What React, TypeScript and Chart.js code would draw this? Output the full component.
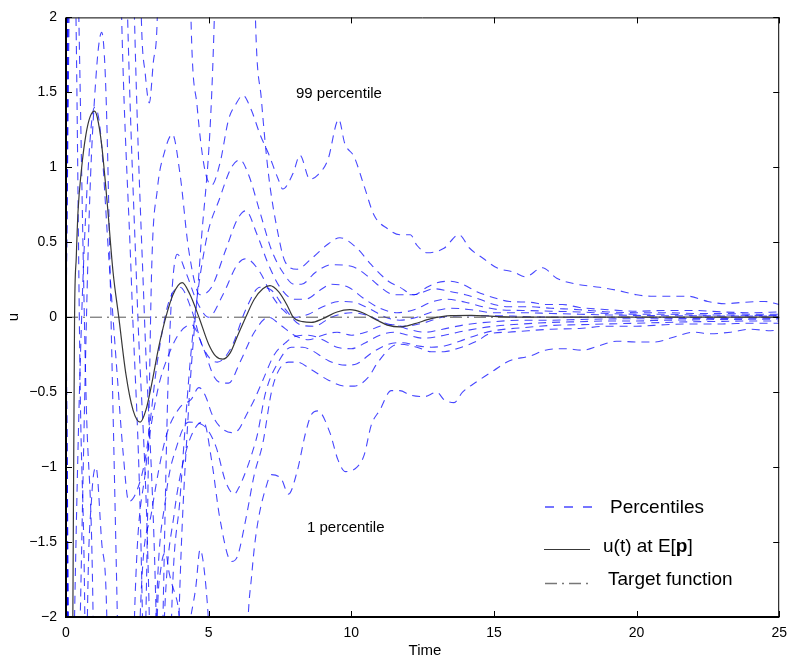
import React, { useEffect, useRef } from 'react';
import { Chart, registerables } from 'chart.js';

Chart.register(...registerables);

// ---------- data (time, u) ----------
const xTickValues = [0, 5, 10, 15, 20, 25];
const yTickValues = [-2, -1.5, -1, -0.5, 0, 0.5, 1, 1.5, 2];

const perc99: [number, number][] = [
  [0, 0], [0.03, 3], [2.55, 3], [2.64, 2.0], [2.78, 1.62], [2.92, 1.43], [3.06, 1.7], [3.2, 2.0], [3.3, 3],
  [4.3, 3], [4.38, 2.0], [4.6, 1.4], [4.85, 1.0], [5.1, 0.88], [5.4, 1.03], [5.7, 1.32], [5.95, 1.42],
  [6.2, 1.48], [6.5, 1.38], [6.8, 1.22], [7.1, 1.09], [7.44, 0.92], [7.6, 0.855], [7.96, 0.96], [8.2, 1.08],
  [8.55, 0.92], [8.83, 0.95], [9.18, 1.05], [9.56, 1.32], [9.77, 1.16], [10.1, 1.07], [10.45, 0.875],
  [10.8, 0.68], [11.27, 0.59], [11.7, 0.55], [12.07, 0.55], [12.3, 0.48], [12.66, 0.43], [13.25, 0.46],
  [13.77, 0.55], [14.15, 0.46], [14.64, 0.39], [15.1, 0.33], [15.7, 0.3], [16.1, 0.27], [16.7, 0.33],
  [17.2, 0.26], [17.9, 0.22], [18.7, 0.2], [19.3, 0.18], [20.0, 0.15], [20.5, 0.14], [21.1, 0.14],
  [21.8, 0.14], [22.5, 0.105], [23.1, 0.09], [23.8, 0.1], [24.5, 0.105], [25, 0.085],
];

const perc95: [number, number][] = [
  [0, 0], [0.05, 3], [2.3, 3], [2.4, 2.0], [2.75, 0.0], [3.16, -2.0], [3.25, -3], [3.85, -3], [3.96, -2.0],
  [4.3, -0.6], [4.7, 0.4], [5.2, 2.0], [5.3, 3], [6.55, 3], [6.64, 2.0], [6.85, 1.45], [7.1, 0.95],
  [7.44, 0.55], [7.68, 0.37], [8.1, 0.32], [8.6, 0.39], [9.2, 0.49], [9.6, 0.53], [10.2, 0.46], [10.7, 0.35],
  [11.3, 0.24], [11.7, 0.2], [12.2, 0.15], [12.65, 0.2], [13.0, 0.23], [13.45, 0.24], [13.9, 0.22],
  [14.4, 0.17], [15.0, 0.13], [15.55, 0.105], [16.25, 0.1], [16.8, 0.085], [17.4, 0.085], [18.0, 0.065],
  [19.0, 0.05], [20.0, 0.04], [21.0, 0.045], [22.0, 0.045], [23.0, 0.035], [24.0, 0.03], [25, 0.035],
];

const perc90: [number, number][] = [
  [0, 0], [0.08, 3], [2.05, 3], [2.16, 2.0], [2.5, 0.1], [2.92, -2.0], [3.0, -3], [3.6, -3], [3.7, -2.0],
  [4.0, -1.2], [4.4, -0.2], [4.9, 0.5], [5.4, 0.8], [5.8, 1.0], [6.1, 1.05], [6.4, 0.95], [6.8, 0.7],
  [7.2, 0.45], [7.6, 0.3], [8.0, 0.22], [8.25, 0.22], [8.75, 0.3], [9.3, 0.35], [10.0, 0.34], [10.6, 0.27],
  [10.9, 0.22], [11.5, 0.15], [12.2, 0.15], [12.9, 0.19], [13.5, 0.17], [14.0, 0.15], [14.5, 0.12],
  [15.0, 0.085], [15.5, 0.07], [16.2, 0.07], [17, 0.06], [18, 0.05], [19, 0.035], [20, 0.03], [21, 0.03],
  [22, 0.025], [23, 0.025], [24, 0.02], [25, 0.02],
];

const perc80: [number, number][] = [
  [0, 0], [0.1, 3], [1.85, 3], [1.95, 2.0], [2.3, 0.2], [2.68, -2.0], [2.72, -2.6], [2.8, -2.0], [3.0, 0.3],
  [3.2, 0.85], [3.45, 1.1], [3.73, 1.22], [4.0, 0.95], [4.3, 0.45], [4.7, 0.15], [5.1, 0.2], [5.6, 0.45],
  [6.0, 0.65], [6.3, 0.71], [6.7, 0.55], [7.1, 0.35], [7.5, 0.2], [8.0, 0.12], [8.4, 0.12], [8.9, 0.18],
  [9.3, 0.22], [9.9, 0.2], [10.4, 0.13], [11.0, 0.06], [11.6, 0.03], [12.2, 0.05], [12.8, 0.1], [13.3, 0.12],
  [14.0, 0.1], [14.6, 0.07], [15.2, 0.05], [16, 0.045], [17, 0.04], [18, 0.035], [19, 0.025], [20, 0.02],
  [21, 0.02], [22, 0.015], [23, 0.015], [24, 0.012], [25, 0.012],
];

const perc65: [number, number][] = [
  [0, 0], [0.06, -3], [0.4, -3], [0.5, -2.0], [0.8, 0.6], [1.05, 1.6], [1.25, 1.9], [1.4, 1.5], [1.6, -0.2],
  [1.8, -2.0], [1.9, -3], [3.3, -3], [3.4, -2.0], [3.6, -0.3], [3.9, 0.42], [4.2, 0.3], [4.6, 0.1],
  [5.0, 0.0], [5.5, 0.15], [6.0, 0.35], [6.3, 0.39], [6.8, 0.3], [7.2, 0.15], [7.6, 0.05], [8.0, 0.0],
  [8.5, 0.02], [9.0, 0.07], [9.6, 0.105], [10.1, 0.1], [10.6, 0.06], [11.2, 0.0], [11.7, -0.02], [12.3, 0.0],
  [12.9, 0.04], [13.5, 0.06], [14.2, 0.05], [15, 0.03], [16, 0.03], [17, 0.025], [18, 0.02], [19, 0.015],
  [20, 0.012], [21, 0.01], [22, 0.01], [23, 0.008], [24, 0.008], [25, 0.006],
];

const perc50: [number, number][] = [
  [0, 0], [0.1, -3], [0.22, -3], [0.3, -2.0], [0.5, -0.3], [0.75, 0.9], [1.0, 1.4], [1.2, 1.25], [1.5, 0.4],
  [1.8, -0.4], [2.0, -0.9], [2.2, -1.23], [2.5, -1.15], [2.8, -0.92], [3.2, -0.3], [3.6, 0.1], [4.0, 0.2],
  [4.4, 0.05], [4.8, -0.2], [5.3, -0.3], [5.8, -0.2], [6.3, 0.05], [6.8, 0.2], [7.2, 0.18], [7.7, 0.05],
  [8.2, -0.05], [8.7, -0.06], [9.3, 0.0], [10.0, 0.03], [10.6, 0.01], [11.2, -0.04], [11.8, -0.06],
  [12.5, -0.04], [13.2, 0.0], [14, 0.01], [15, 0.01], [16, 0.005], [17, 0.0], [18, 0.0], [19, 0.0],
  [20, 0.0], [21, 0.0], [22, -0.002], [23, 0.0], [24, 0.0], [25, 0.0],
];

const perc35: [number, number][] = [
  [0, 0], [0.15, 3], [0.35, 3], [0.45, 2.0], [0.7, -0.5], [0.95, -2.0], [1.0, -3], [2.3, -3], [2.4, -2.0],
  [2.8, -1.0], [3.2, -0.5], [3.6, -0.25], [4.0, -0.1], [4.4, -0.05], [4.8, -0.2], [5.2, -0.4], [5.5, -0.44],
  [5.7, -0.44], [6.1, -0.3], [6.6, -0.1], [7.1, 0.0], [7.5, -0.05], [8.0, -0.12], [8.5, -0.15], [9.0, -0.12],
  [9.5, -0.1], [10.0, -0.12], [10.5, -0.1], [11.0, -0.06], [11.5, -0.05], [12.0, -0.08], [12.6, -0.1],
  [13.2, -0.08], [14.0, -0.05], [15, -0.03], [16, -0.02], [17, -0.02], [18, -0.015], [19, -0.012],
  [20, -0.01], [21, -0.01], [22, -0.008], [23, -0.008], [24, -0.006], [25, -0.006],
];

const perc20: [number, number][] = [
  [0, 0], [0.12, -3], [0.7, -3], [0.75, -2.0], [0.9, -1.2], [1.05, -1.0], [1.25, -1.5], [1.43, -2.0],
  [1.5, -3], [2.5, -3], [2.6, -2.0], [3.0, -1.3], [3.5, -0.8], [4.0, -0.6], [4.38, -0.55], [4.66, -0.47],
  [4.9, -0.53], [5.1, -0.64], [5.35, -0.72], [5.8, -0.77], [6.05, -0.75], [6.3, -0.66], [6.6, -0.55],
  [6.9, -0.42], [7.3, -0.25], [7.7, -0.17], [8.0, -0.13], [8.5, -0.12], [9.0, -0.15], [9.5, -0.2],
  [10.0, -0.21], [10.5, -0.17], [11.0, -0.12], [11.5, -0.1], [12.0, -0.12], [12.5, -0.14], [13.0, -0.13],
  [13.5, -0.11], [14.0, -0.09], [15, -0.06], [16, -0.045], [17, -0.035], [18, -0.03], [19, -0.025],
  [20, -0.025], [21, -0.02], [22, -0.018], [23, -0.015], [24, -0.014], [25, -0.012],
];

const perc10: [number, number][] = [
  [0, 0], [0.2, 3], [0.25, 3], [0.35, 2.0], [0.5, -0.5], [0.66, -2.0], [0.7, -3], [3.05, -3], [3.16, -2.0],
  [3.5, -1.2], [3.9, -0.85], [4.3, -0.7], [4.8, -0.72], [5.25, -0.86], [5.6, -1.1], [5.9, -1.18],
  [6.05, -1.14], [6.3, -1.03], [6.5, -0.92], [6.7, -0.79], [7.0, -0.5], [7.44, -0.3], [7.9, -0.2],
  [8.3, -0.2], [8.6, -0.22], [9.2, -0.29], [9.8, -0.32], [10.2, -0.31], [10.7, -0.24], [11.3, -0.18],
  [11.8, -0.17], [12.3, -0.19], [12.8, -0.2], [13.3, -0.19], [13.8, -0.16], [14.4, -0.12], [15, -0.09],
  [16, -0.07], [17, -0.055], [18, -0.05], [19, -0.045], [20, -0.04], [21, -0.035], [22, -0.03],
  [23, -0.028], [24, -0.025], [25, -0.025],
];

const perc5: [number, number][] = [
  [0, 0], [0.16, -3], [3.3, -3], [3.45, -2.0], [3.8, -1.3], [4.2, -0.9], [4.6, -0.72], [4.83, -0.7],
  [5.1, -0.95], [5.4, -1.35], [5.8, -1.63], [6.0, -1.6], [6.3, -1.35], [6.6, -1.05], [6.9, -0.84],
  [7.2, -0.5], [7.44, -0.36], [7.8, -0.3], [8.1, -0.3], [8.6, -0.35], [9.2, -0.42], [9.8, -0.46],
  [10.1, -0.46], [10.6, -0.4], [10.9, -0.31], [11.4, -0.2], [11.7, -0.18], [12.3, -0.2], [12.8, -0.23],
  [13.25, -0.23], [13.7, -0.21], [14.4, -0.16], [14.85, -0.11], [15.5, -0.1], [16.2, -0.09], [17, -0.08],
  [18, -0.075], [19, -0.06], [20, -0.06], [21, -0.05], [22, -0.045], [23, -0.045], [24, -0.04], [25, -0.04],
];

const perc1: [number, number][] = [
  [0, 0], [0.08, -3], [3.1, -3], [3.2, -2.0], [3.33, -1.67], [3.5, -1.57], [3.6, -1.69], [3.73, -1.79],
  [3.9, -1.9], [4.15, -2.2], [4.4, -1.97], [4.55, -1.8], [4.7, -1.55], [4.8, -1.62], [4.95, -1.9],
  [5.05, -2.2], [5.3, -3], [6.1, -3], [6.3, -2.4], [6.4, -1.95], [6.5, -1.74], [6.6, -1.54], [6.75, -1.34],
  [7.0, -1.14], [7.2, -1.05], [7.55, -1.08], [7.8, -1.18], [8.1, -1.03], [8.4, -0.77], [8.6, -0.65],
  [8.83, -0.625], [9.25, -0.77], [9.53, -0.95], [9.8, -1.03], [10.2, -1.0], [10.45, -0.92], [10.7, -0.72],
  [11.0, -0.62], [11.4, -0.49], [11.7, -0.49], [12.07, -0.52], [12.55, -0.53], [13.0, -0.5], [13.25, -0.55],
  [13.6, -0.57], [13.9, -0.5], [14.4, -0.43], [15.0, -0.355], [15.55, -0.29], [16.25, -0.26], [16.8, -0.22],
  [17.5, -0.21], [18.1, -0.22], [18.7, -0.19], [19.3, -0.16], [20, -0.165], [20.65, -0.165], [21.35, -0.13],
  [22.0, -0.1], [22.6, -0.11], [23.3, -0.1], [24.0, -0.08], [24.7, -0.09], [25, -0.085],
];

const meanResponse: [number, number][] = [
  [0, 0], [0.03, -3], [0.2, -3], [0.24, -2.0], [0.3, 0.0], [0.36, 0.4], [0.42, 0.7], [0.55, 1.0],
  [0.7, 1.22], [0.85, 1.34], [1.0, 1.375], [1.1, 1.33], [1.25, 1.15], [1.45, 0.75], [1.65, 0.3],
  [1.85, 0.0], [2.1, -0.38], [2.35, -0.62], [2.6, -0.7], [2.8, -0.62], [3.0, -0.45], [3.25, -0.2],
  [3.5, 0.0], [3.75, 0.15], [4.07, 0.23], [4.35, 0.15], [4.66, 0.0], [5.0, -0.18], [5.25, -0.26],
  [5.5, -0.28], [5.75, -0.24], [6.0, -0.13], [6.3, 0.0], [6.6, 0.12], [6.9, 0.19], [7.15, 0.21],
  [7.45, 0.17], [7.75, 0.08], [7.96, 0.0], [8.3, -0.03], [8.6, -0.035], [9.0, -0.01], [9.5, 0.035],
  [9.95, 0.05], [10.4, 0.03], [10.9, -0.02], [11.3, -0.055], [11.7, -0.065], [12.2, -0.045], [12.8, -0.01],
  [13.5, 0.01], [14.2, 0.012], [15, 0.005], [16, 0.0], [18, 0.0], [20, 0.0], [22, 0.0], [25, 0.0],
];

const targetFunction: [number, number][] = [[0, 0], [25, 0]];

const percentileCurves = [perc99, perc95, perc90, perc80, perc65, perc50, perc35, perc20, perc10, perc5, perc1];

// ---------- styles ----------
const FONT = "'Liberation Sans', Arial, Helvetica, sans-serif";
const BLUE = 'rgba(0,0,255,0.72)';
const BLACK_LINE = '#383838';
const TARGET_COLOR = '#555555';
const DASH = [8, 6];
const DASH_DOT = [12, 5, 2, 5];

const toXY = (arr: [number, number][]) => arr.map(([x, y]) => ({ x, y }));
const fmt = (v: number) => String(Math.round(v * 10) / 10).replace('-', '\u2212');

const decorPlugin = {
  id: 'decor',
  afterDraw(chart: any) {
    const { ctx, chartArea, scales } = chart;
    const { left, right, top, bottom } = chartArea;
    const xs = scales.x;
    const ys = scales.y;
    ctx.save();
    ctx.setLineDash([]);
    ctx.strokeStyle = '#000';
    // box
    ctx.lineWidth = 1;
    ctx.beginPath();
    ctx.moveTo(left, top + 0.5);
    ctx.lineTo(right, top + 0.5);
    ctx.moveTo(right - 0.5, top);
    ctx.lineTo(right - 0.5, bottom);
    ctx.stroke();
    ctx.lineWidth = 2;
    ctx.beginPath();
    ctx.moveTo(left - 1, bottom);
    ctx.lineTo(right, bottom);
    ctx.moveTo(left, top);
    ctx.lineTo(left, bottom + 1);
    ctx.stroke();
    // inward ticks
    ctx.lineWidth = 1;
    ctx.beginPath();
    xTickValues.forEach((v) => {
      const px = Math.round(xs.getPixelForValue(v)) + 0.5;
      ctx.moveTo(px, bottom);
      ctx.lineTo(px, bottom - 6);
      ctx.moveTo(px, top);
      ctx.lineTo(px, top + 6);
    });
    yTickValues.forEach((v) => {
      const py = Math.round(ys.getPixelForValue(v)) + 0.5;
      ctx.moveTo(left, py);
      ctx.lineTo(left + 6, py);
      ctx.moveTo(right, py);
      ctx.lineTo(right - 6, py);
    });
    ctx.stroke();

    // axis titles
    ctx.fillStyle = '#000';
    ctx.textBaseline = 'middle';
    ctx.textAlign = 'center';
    ctx.font = `15px ${FONT}`;
    ctx.fillText('Time', 425, 651);
    ctx.save();
    ctx.translate(14, (top + bottom) / 2);
    ctx.rotate(-Math.PI / 2);
    ctx.fillText('u', 0, 0);
    ctx.restore();

    // annotations
    ctx.textAlign = 'left';
    ctx.font = `15px ${FONT}`;
    ctx.fillText('99 percentile', 296, 94);
    ctx.fillText('1 percentile', 307, 528);

    // legend
    ctx.font = `19px ${FONT}`;
    ctx.lineWidth = 1.5;
    ctx.strokeStyle = BLUE;
    ctx.setLineDash([9, 10]);
    ctx.beginPath();
    ctx.moveTo(545, 507);
    ctx.lineTo(593, 507);
    ctx.stroke();
    ctx.fillText('Percentiles', 610, 508);

    ctx.lineWidth = 1.2;
    ctx.strokeStyle = BLACK_LINE;
    ctx.setLineDash([]);
    ctx.beginPath();
    ctx.moveTo(544, 549.5);
    ctx.lineTo(590, 549.5);
    ctx.stroke();
    let tx = 603;
    const part1 = 'u(t) at E[';
    ctx.fillText(part1, tx, 547);
    tx += ctx.measureText(part1).width;
    ctx.font = `bold 19px ${FONT}`;
    ctx.fillText('p', tx, 547);
    tx += ctx.measureText('p').width;
    ctx.font = `19px ${FONT}`;
    ctx.fillText(']', tx, 547);

    ctx.lineWidth = 1.3;
    ctx.strokeStyle = '#777777';
    ctx.setLineDash(DASH_DOT);
    ctx.beginPath();
    ctx.moveTo(545, 583.5);
    ctx.lineTo(590, 583.5);
    ctx.stroke();
    ctx.fillText('Target function', 608, 580);
    ctx.restore();
  },
};

export default function App() {
  const ref = useRef<HTMLCanvasElement | null>(null);

  useEffect(() => {
    if (!ref.current) return;
    const datasets: any[] = [
      {
        label: 'u(t) at E[p]',
        data: toXY(meanResponse),
        borderColor: BLACK_LINE,
        borderWidth: 1.2,
        pointRadius: 0,
        cubicInterpolationMode: 'monotone',
      },
      {
        label: 'Target function',
        data: toXY(targetFunction),
        borderColor: TARGET_COLOR,
        borderWidth: 1,
        borderDash: DASH_DOT,
        pointRadius: 0,
        tension: 0,
      },
      ...percentileCurves.map((c, i) => ({
        label: i === 0 ? 'Percentiles' : `p${i}`,
        data: toXY(c),
        borderColor: BLUE,
        borderWidth: 1.1,
        borderDash: DASH,
        pointRadius: 0,
        cubicInterpolationMode: 'monotone',
      })),
    ];

    const chart = new Chart(ref.current, {
      type: 'line',
      data: { datasets },
      options: {
        responsive: false,
        animation: false,
        devicePixelRatio: 1,
        events: [],
        layout: { padding: { left: 0, right: 10, top: 9, bottom: 0 } },
        plugins: { legend: { display: false }, tooltip: { enabled: false } },
        scales: {
          x: {
            type: 'linear',
            min: 0,
            max: 25,
            afterFit: (s: any) => { s.height = 45; },
            grid: { display: false, drawTicks: false },
            border: { display: false },
            ticks: {
              stepSize: 5,
              autoSkip: false,
              maxRotation: 0,
              padding: 8,
              color: '#000',
              font: { family: FONT, size: 14 },
              callback: (v: any) => fmt(Number(v)),
            },
          },
          y: {
            type: 'linear',
            min: -2,
            max: 2,
            afterFit: (s: any) => { s.width = 66; },
            grid: { display: false, drawTicks: false },
            border: { display: false },
            ticks: {
              stepSize: 0.5,
              autoSkip: false,
              padding: 9,
              color: '#000',
              font: { family: FONT, size: 14 },
              callback: (v: any) => fmt(Number(v)),
            },
          },
        },
      },
      plugins: [decorPlugin],
    } as any);
    return () => chart.destroy();
  }, []);

  return (
    <div style={{ position: 'absolute', left: 0, top: 0, width: 795, height: 662, background: '#fff' }}>
      <canvas ref={ref} width={795} height={662} style={{ width: 795, height: 662, display: 'block' }} />
    </div>
  );
}
